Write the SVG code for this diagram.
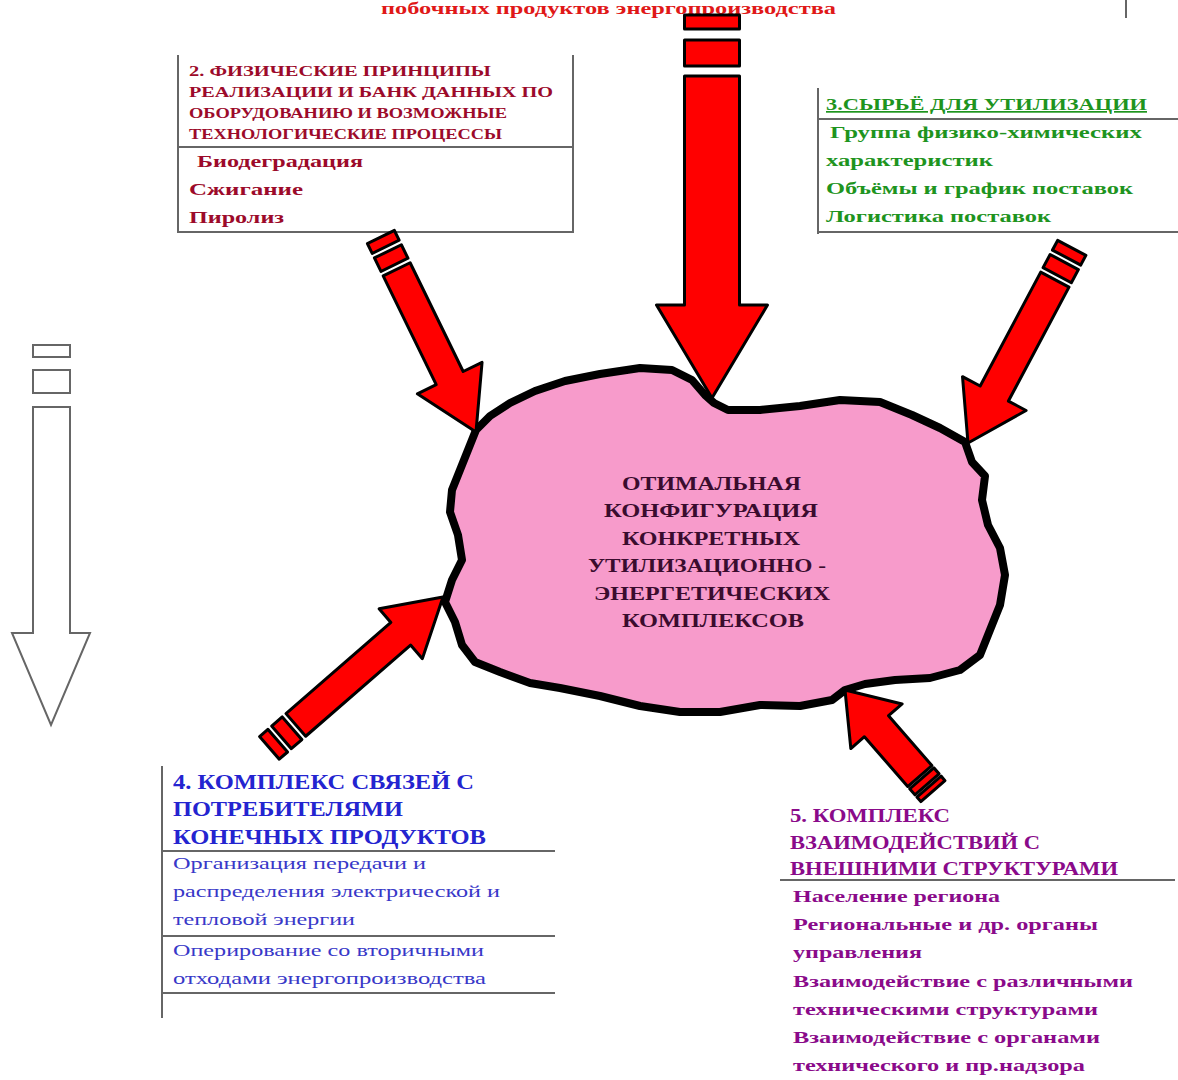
<svg xmlns="http://www.w3.org/2000/svg" width="1178" height="1080" viewBox="0 0 1178 1080">
<defs>
<style>
.bg{fill:#ffffff}
.rl{stroke:#666666;stroke-width:2;fill:none}
.ra{fill:#ff0000;stroke:#000000;stroke-width:3;stroke-linejoin:round}
.wa{fill:#ffffff;stroke:#666666;stroke-width:2}
.cloud{fill:#f79bcb;stroke:#000000;stroke-width:8;stroke-linejoin:round}
.t{font-family:"Liberation Serif","Times New Roman",serif}
.b{font-weight:bold}
.red{fill:#e01818}
.crim{fill:#9c0a2a}
.grn{fill:#1e941e}
.blu{fill:#2424d0}
.blu2{fill:#3838c8}
.pur{fill:#8a0a8a}
.ctr{fill:#3a0c2e}
</style>
</defs>
<rect class="bg" x="0" y="0" width="1178" height="1080"/>

<g id="node-top-label">
<text class="t b red" x="381" y="14" font-size="17" textLength="455" lengthAdjust="spacingAndGlyphs">побочных продуктов энергопроизводства</text>
<line class="rl" x1="1126" y1="0" x2="1126" y2="18"/>
</g>

<g id="node-center">
<path class="cloud" d="M476,430 L490,416 L510,403 L535,391 L565,381 L600,374 L640,368 L672,370 L692,380 L705,395 L714,403 L728,410 L760,410 L800,406 L840,400 L880,402 L912,415 L940,428 L965,442 L972,462 L985,476 L982,500 L988,525 L1000,548 L1005,575 L1000,605 L990,630 L980,655 L960,670 L930,678 L895,680 L865,684 L845,690 L832,700 L800,706 L760,705 L720,712 L680,712 L640,706 L600,696 L560,688 L530,683 L500,672 L475,662 L462,645 L455,622 L445,602 L452,580 L462,560 L458,535 L450,512 L452,490 L462,465 L470,445 Z"/>
<g class="t b ctr" font-size="19">
<text x="622" y="490" textLength="179" lengthAdjust="spacingAndGlyphs">ОТИМАЛЬНАЯ</text>
<text x="604" y="517" textLength="214" lengthAdjust="spacingAndGlyphs">КОНФИГУРАЦИЯ</text>
<text x="622" y="545" textLength="178" lengthAdjust="spacingAndGlyphs">КОНКРЕТНЫХ</text>
<text x="588" y="572" textLength="238" lengthAdjust="spacingAndGlyphs">УТИЛИЗАЦИОННО -</text>
<text x="594" y="600" textLength="236" lengthAdjust="spacingAndGlyphs">ЭНЕРГЕТИЧЕСКИХ</text>
<text x="622" y="627" textLength="182" lengthAdjust="spacingAndGlyphs">КОМПЛЕКСОВ</text>
</g>
</g>

<g id="node-box2">
<line class="rl" x1="178" y1="55" x2="178" y2="233"/>
<line class="rl" x1="573" y1="55" x2="573" y2="233"/>
<line class="rl" x1="178" y1="147" x2="573" y2="147"/>
<line class="rl" x1="178" y1="232" x2="573" y2="232"/>
<g class="t b crim" font-size="15">
<text x="189" y="76" textLength="302" lengthAdjust="spacingAndGlyphs">2. ФИЗИЧЕСКИЕ ПРИНЦИПЫ</text>
<text x="189" y="97" textLength="364" lengthAdjust="spacingAndGlyphs">РЕАЛИЗАЦИИ И БАНК ДАННЫХ ПО</text>
<text x="189" y="118" textLength="318" lengthAdjust="spacingAndGlyphs">ОБОРУДОВАНИЮ И ВОЗМОЖНЫЕ</text>
<text x="189" y="139" textLength="313" lengthAdjust="spacingAndGlyphs">ТЕХНОЛОГИЧЕСКИЕ ПРОЦЕССЫ</text>
</g>
<g class="t b crim" font-size="17">
<text x="197" y="167" textLength="166" lengthAdjust="spacingAndGlyphs">Биодеградация</text>
<text x="189" y="195" textLength="114" lengthAdjust="spacingAndGlyphs">Сжигание</text>
<text x="189" y="223" textLength="95" lengthAdjust="spacingAndGlyphs">Пиролиз</text>
</g>
</g>

<g id="node-box3">
<line class="rl" x1="818" y1="88" x2="818" y2="234"/>
<line class="rl" x1="818" y1="119" x2="1178" y2="119"/>
<line class="rl" x1="818" y1="232" x2="1178" y2="232"/>
<g class="t b grn" font-size="17">
<text x="826" y="110" textLength="321" lengthAdjust="spacingAndGlyphs" text-decoration="underline">3.СЫРЬЁ ДЛЯ УТИЛИЗАЦИИ</text>
<text x="830" y="138" textLength="312" lengthAdjust="spacingAndGlyphs">Группа физико-химических</text>
<text x="826" y="166" textLength="167" lengthAdjust="spacingAndGlyphs">характеристик</text>
<text x="826" y="194" textLength="307" lengthAdjust="spacingAndGlyphs">Объёмы и график поставок</text>
<text x="826" y="222" textLength="225" lengthAdjust="spacingAndGlyphs">Логистика поставок</text>
</g>
</g>

<g id="node-box4">
<line class="rl" x1="162" y1="766" x2="162" y2="1018"/>
<line class="rl" x1="162" y1="851" x2="555" y2="851"/>
<line class="rl" x1="162" y1="936" x2="555" y2="936"/>
<line class="rl" x1="162" y1="993" x2="555" y2="993"/>
<g class="t b blu" font-size="20">
<text x="173" y="789" textLength="301" lengthAdjust="spacingAndGlyphs">4. КОМПЛЕКС СВЯЗЕЙ С</text>
<text x="173" y="816" textLength="230" lengthAdjust="spacingAndGlyphs">ПОТРЕБИТЕЛЯМИ</text>
<text x="173" y="844" textLength="313" lengthAdjust="spacingAndGlyphs">КОНЕЧНЫХ ПРОДУКТОВ</text>
</g>
<g class="t blu2" font-size="17">
<text x="173" y="869" textLength="253" lengthAdjust="spacingAndGlyphs">Организация передачи и</text>
<text x="173" y="897" textLength="327" lengthAdjust="spacingAndGlyphs">распределения электрической и</text>
<text x="173" y="925" textLength="182" lengthAdjust="spacingAndGlyphs">тепловой энергии</text>
<text x="173" y="956" textLength="311" lengthAdjust="spacingAndGlyphs">Оперирование со вторичными</text>
<text x="173" y="984" textLength="313" lengthAdjust="spacingAndGlyphs">отходами энергопроизводства</text>
</g>
</g>

<g id="node-box5">
<line class="rl" x1="780" y1="880" x2="1175" y2="880"/>
<g class="t b pur" font-size="19">
<text x="790" y="822" textLength="160" lengthAdjust="spacingAndGlyphs">5. КОМПЛЕКС</text>
<text x="790" y="849" textLength="250" lengthAdjust="spacingAndGlyphs">ВЗАИМОДЕЙСТВИЙ С</text>
<text x="790" y="875" textLength="328" lengthAdjust="spacingAndGlyphs">ВНЕШНИМИ СТРУКТУРАМИ</text>
</g>
<g class="t b pur" font-size="17">
<text x="793" y="902" textLength="207" lengthAdjust="spacingAndGlyphs">Население региона</text>
<text x="793" y="930" textLength="305" lengthAdjust="spacingAndGlyphs">Региональные и др. органы</text>
<text x="793" y="958" textLength="129" lengthAdjust="spacingAndGlyphs">управления</text>
<text x="793" y="987" textLength="340" lengthAdjust="spacingAndGlyphs">Взаимодействие с различными</text>
<text x="793" y="1015" textLength="305" lengthAdjust="spacingAndGlyphs">техническими структурами</text>
<text x="793" y="1043" textLength="307" lengthAdjust="spacingAndGlyphs">Взаимодействие с органами</text>
<text x="793" y="1071" textLength="292" lengthAdjust="spacingAndGlyphs">технического и пр.надзора</text>
</g>
</g>

<g id="connectors">
<g id="arrow-top" transform="translate(712,398)">
<polygon class="ra" points="0,0 -55.5,-93 -27.5,-93 -27.5,-322 27.5,-322 27.5,-93 55.5,-93"/>
<rect class="ra" x="-27.5" y="-358" width="55" height="26"/>
<rect class="ra" x="-27.5" y="-383" width="55" height="14"/>
</g>
<g id="arrow-box2" transform="translate(476,432) rotate(-26)">
<polygon class="ra" points="0,0 -36,-60 -15,-60 -15,-181 15,-181 15,-60 36,-60"/>
<rect class="ra" x="-15" y="-201" width="30" height="15"/>
<rect class="ra" x="-15" y="-217" width="30" height="11"/>
</g>
<g id="arrow-box3" transform="translate(968,443) rotate(28)">
<polygon class="ra" points="0,0 -36,-56 -16,-56 -16,-185 16,-185 16,-56 36,-56"/>
<rect class="ra" x="-16" y="-205" width="32" height="15"/>
<rect class="ra" x="-16" y="-221" width="32" height="11"/>
</g>
<g id="arrow-box4" transform="translate(443,597) rotate(-131)">
<polygon class="ra" points="0,0 -33,-56 -15,-56 -15,-195 15,-195 15,-56 33,-56"/>
<rect class="ra" x="-15" y="-214" width="30" height="14"/>
<rect class="ra" x="-15" y="-230" width="30" height="11"/>
</g>
<g id="arrow-box5" transform="translate(845,690) rotate(139)">
<polygon class="ra" points="0,0 -34,-48 -16,-48 -16,-114 16,-114 16,-48 34,-48"/>
<rect class="ra" x="-16" y="-125" width="32" height="8"/>
<rect class="ra" x="-16" y="-134" width="32" height="6"/>
</g>
</g>

<g id="side-arrow">
<rect class="wa" x="33" y="345" width="37" height="12"/>
<rect class="wa" x="33" y="370" width="37" height="23"/>
<polygon class="wa" points="33,407 70,407 70,633 90,633 51,725 12,633 33,633"/>
</g>
</svg>
